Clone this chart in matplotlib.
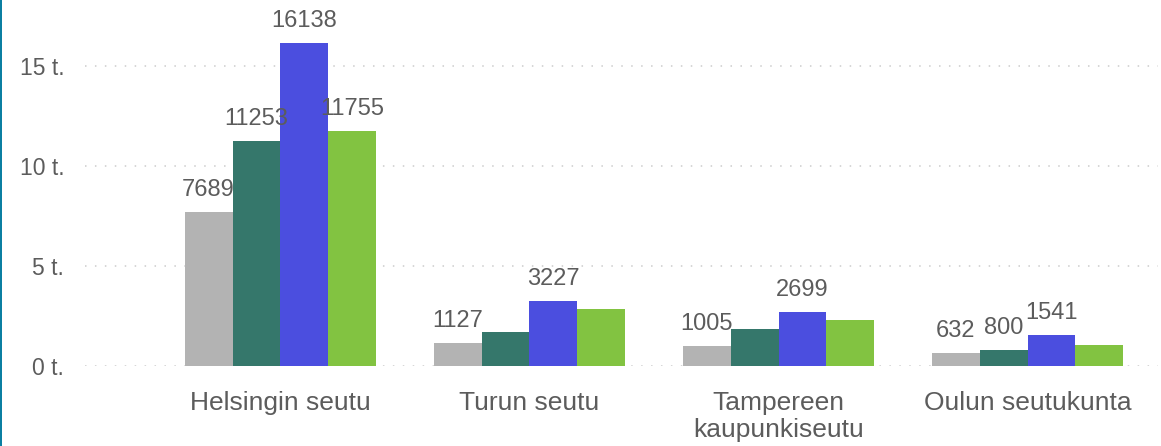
import matplotlib
matplotlib.use("Agg")
import matplotlib.pyplot as plt
from matplotlib.patches import Rectangle
import numpy as np

plt.rcParams['font.family'] = ['Liberation Sans', 'DejaVu Sans']

# data
categories = ['Helsingin seutu', 'Turun seutu', 'Tampereen\nkaupunkiseutu', 'Oulun seutukunta']
series_gray = [7689, 1127, 1005, 632]
series_teal = [11253, 1700, 1850, 800]
series_blue = [16138, 3227, 2699, 1541]
series_green = [11755, 2850, 2300, 1050]
# which values carry a data label (others hidden as in the original)
show_gray = [True, True, True, True]
show_teal = [True, False, False, True]
show_blue = [True, True, True, True]
show_green = [True, False, False, False]
ytick_vals = [0, 5000, 10000, 15000]
ytick_labels = ['0 t.', '5 t.', '10 t.', '15 t.']

colors = ['#b3b3b3', '#35776b', '#4b4edf', '#82c341']
text_color = '#5c5c5c'

W, H = 1161, 446
fig = plt.figure(figsize=(W / 100, H / 100), dpi=100)
ax = fig.add_axes([85 / W, (H - 366) / H, (1158 - 85) / W, 366 / H])

x = np.arange(len(categories))
bw = 0.1925
all_series = [series_gray, series_teal, series_blue, series_green]
all_show = [show_gray, show_teal, show_blue, show_green]
for i, (vals, shows, c) in enumerate(zip(all_series, all_show, colors)):
    xs = x + (i - 1.5) * bw
    ax.bar(xs, vals, width=bw, color=c, linewidth=0, zorder=3)
    for xi, v, s in zip(xs, vals, shows):
        if s:
            ax.annotate(str(v), (xi, v), xytext=(0, 8), textcoords='offset points',
                        ha='center', va='bottom', fontsize=17, color=text_color,
                        zorder=4, annotation_clip=False)

ax.set_xlim(-0.785, 3.524)
ax.set_ylim(0, 18300)
ax.set_yticks(ytick_vals)
ax.set_yticklabels(ytick_labels)
ax.set_xticks(x)
ax.set_xticklabels(categories, linespacing=1.15)
ax.tick_params(axis='y', length=0, pad=15, labelsize=16.5, labelcolor=text_color)
ax.tick_params(axis='x', length=0, pad=18, labelsize=19, labelcolor=text_color)
for sp in ax.spines.values():
    sp.set_visible(False)
ax.grid(axis='y', color='#cccccc', linewidth=1.1, linestyle=(0, (1, 5.5)), zorder=0)
ax.set_axisbelow(True)

# left border strip
fig.add_artist(Rectangle((0, 0), 2 / W, 1, transform=fig.transFigure,
                         facecolor='#0b7fa2', edgecolor='none'))

fig.savefig('out.png', dpi=100)
